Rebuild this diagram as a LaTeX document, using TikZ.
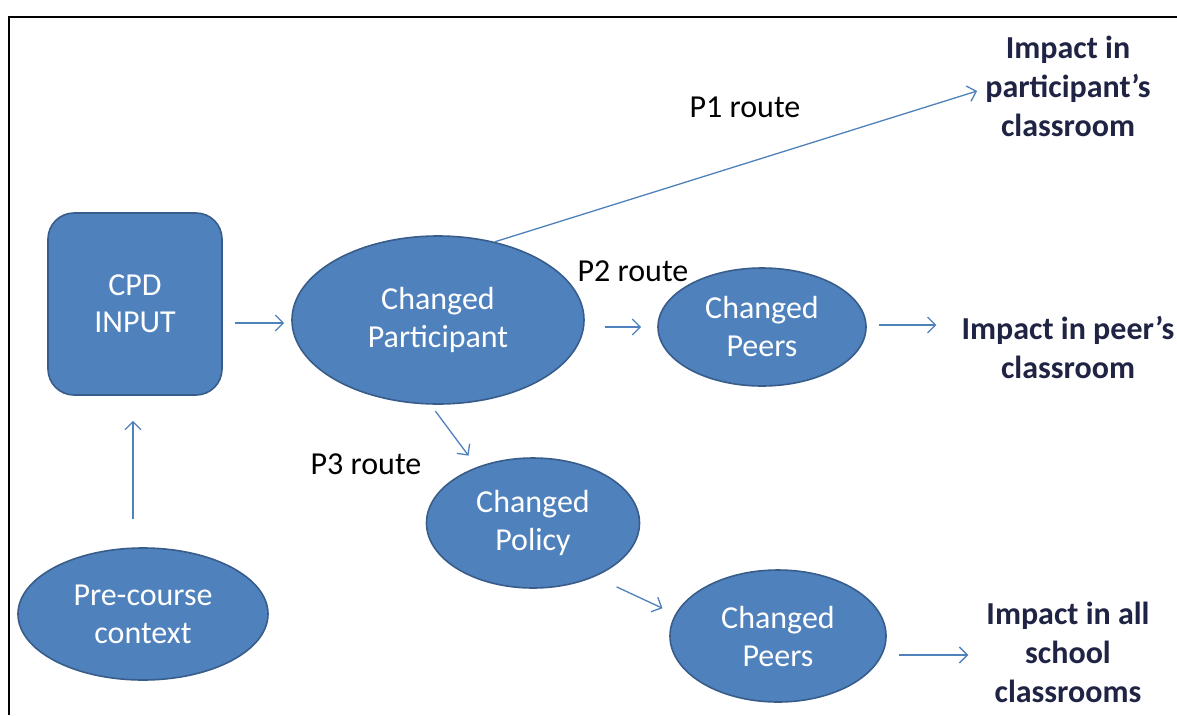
\documentclass[tikz,border=0pt]{standalone}
\usepackage{fontspec}
\setmainfont{Carlito}
\usetikzlibrary{shapes.geometric,arrows.meta}
\definecolor{ofblue}{HTML}{4F81BD}
\definecolor{ofedge}{HTML}{385D8A}
\definecolor{navy}{RGB}{32,36,68}
\begin{document}
\begin{tikzpicture}[x=1pt,y=-1pt,
  blob/.style={ellipse, fill=ofblue, draw=ofedge, line width=1.6pt, inner sep=0pt, text=white, align=center, font=\fontsize{32}{38}\selectfont},
  rbox/.style={rectangle, rounded corners=26pt, fill=ofblue, draw=ofedge, line width=1.6pt, minimum width=174pt, minimum height=182pt, inner sep=0pt, text=white, align=center, font=\fontsize{32}{37}\selectfont},
  impact/.style={align=center, inner sep=0pt, text=navy, font=\fontsize{32}{39}\selectfont\bfseries},
  route/.style={inner sep=0pt, font=\fontsize{32}{38}\selectfont},
  arr/.style={draw=ofblue, line width=1.3pt, -{Straight Barb[length=8pt,width=16pt]}}
]
\useasboundingbox (0,0) rectangle (1177,715);
\fill[white] (0,0) rectangle (1177,715);
% frame
\draw[line width=2pt] (9,715) -- (9,17) -- (1177,17);

% nodes
\node[rbox] (cpd) at (135,304) {CPD\\INPUT};
\node[blob, minimum width=292pt, minimum height=168pt] (part) at (438,320) {Changed\\Participant};
\node[blob, minimum width=250pt, minimum height=132pt] (pre) at (143,614) {Pre-course\\context};
\node[blob, minimum width=208pt, minimum height=118pt] (peers1) at (762,327) {Changed\\Peers};
\node[blob, minimum width=213pt, minimum height=130pt] (policy) at (533,523) {Changed\\Policy};
\node[blob, minimum width=216pt, minimum height=132pt] (peers2) at (778,636) {Changed\\Peers};

\node[impact] (imp1) at (1068,86) {Impact in\\participant’s\\classroom};
\node[impact] (imp2) at (1068,347) {Impact in peer’s\\classroom};
\node[impact] (imp3) at (1068,652) {Impact in all\\school\\classrooms};

\node[route] (r1) at (745,107) {P1 route};
\node[route] (r2) at (633,271) {P2 route};
\node[route] (r3) at (366,464) {P3 route};

% connectors
\draw[arr] ([xshift=12pt,yshift=-19pt]cpd.east) -- ([xshift=-7pt,yshift=-3pt]part.west);
\draw[arr] ([xshift=-10pt,yshift=28pt]pre.north) -- ([xshift=-2pt,yshift=-25pt]cpd.south);
\draw[arr] (part.54) -- ([xshift=-8pt,yshift=-5pt]imp1.west);
\draw[arr] ([xshift=20pt,yshift=-7pt]part.east) -- ([xshift=-16pt]peers1.west);
\draw[arr] ([xshift=12pt,yshift=2pt]peers1.east) -- ([xshift=-25pt,yshift=22pt]imp2.west);
\draw[arr, shorten <=8pt, shorten >=14pt] (part.265) -- (policy.135);
\draw[arr, shorten <=24pt, shorten >=14pt] (policy.-41) -- (peers2.168);
\draw[arr] ([xshift=12pt,yshift=-19pt]peers2.east) -- ([xshift=-18pt,yshift=-3pt]imp3.west);
\end{tikzpicture}
\end{document}
